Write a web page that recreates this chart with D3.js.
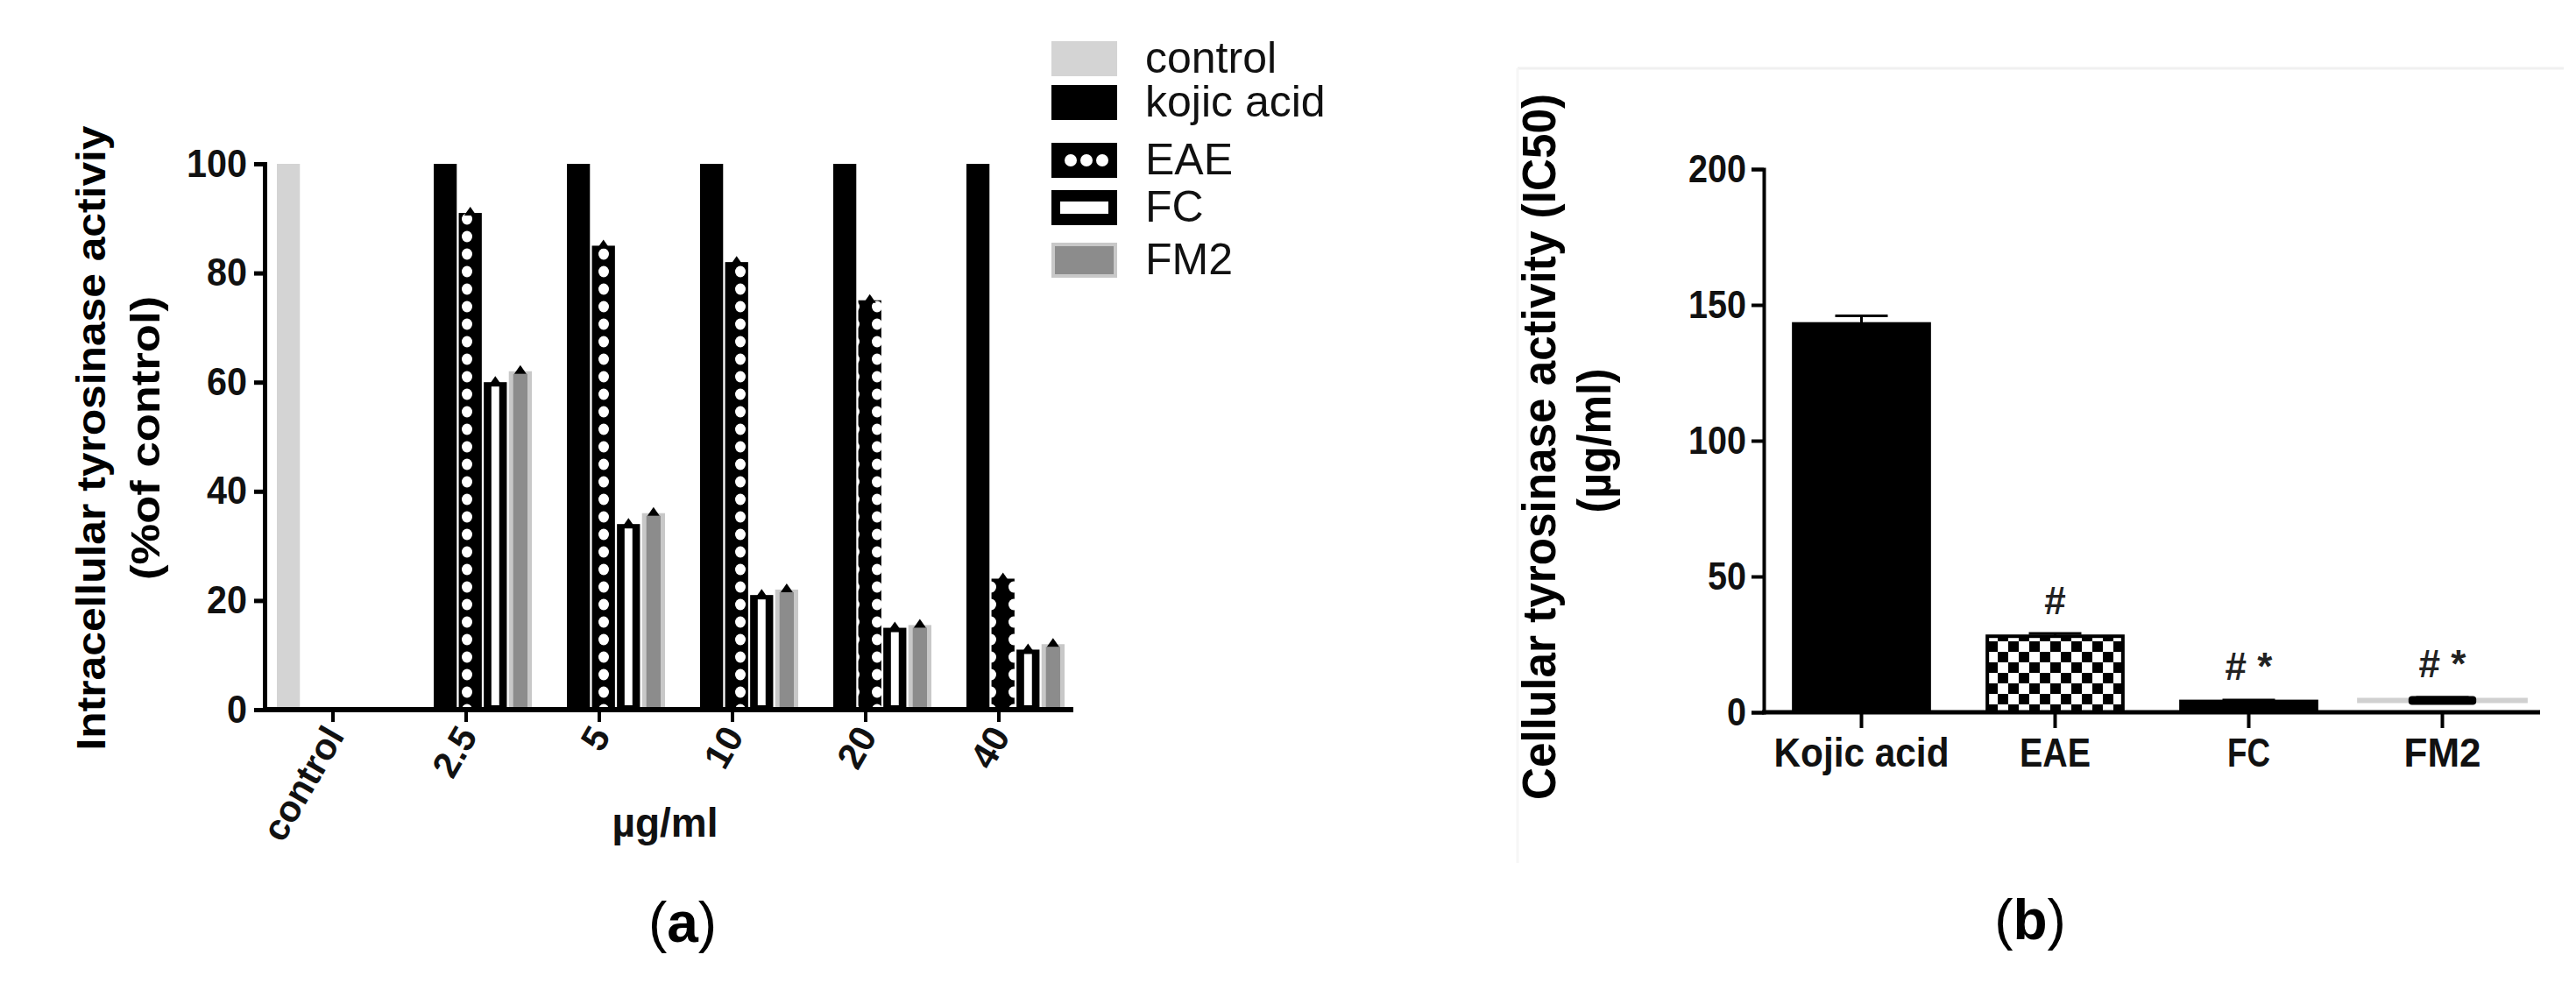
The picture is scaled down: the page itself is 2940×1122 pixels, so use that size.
<!DOCTYPE html>
<html lang="en">
<meta charset="utf-8">
<head>
<script src="https://d3js.org/d3.v7.min.js"></script>
<style>
  body { margin: 0; background: #fff; }
  text { font-family: "Liberation Sans", Arial, sans-serif; }
</style>
</head>
<body>
<svg id="chart" width="2940" height="1122"></svg>
<script>
// panel (a) data
const groups = ["control", "2.5", "5", "10", "20", "40"];
const series = ["control", "kojic acid", "EAE", "FC", "FM2"];
const controlVal = 100;
const kojic = [100, 100, 100, 100, 100];
const eae = [91, 85, 82, 75, 24];
const fc = [60, 34, 21, 15, 11];
const fm2 = [62, 36, 22, 15.5, 12];
const yTicksA = [0, 20, 40, 60, 80, 100];

// panel (b) data
const compounds = ["Kojic acid", "EAE", "FC", "FM2"];
const ic50 = [143, 28, 4, 5];
const ic50Err = [3, 1, 0.5, 0.5];
const marks = ["", "#", "# *", "# *"];
const yTicksB = [0, 50, 100, 150, 200];

const svg = d3.select("#chart");
const defs = svg.append("defs");

// patterns
const dots = defs.append("pattern").attr("id", "dots").attr("patternUnits", "userSpaceOnUse")
  .attr("width", 26).attr("height", 20);
dots.append("rect").attr("width", 26).attr("height", 20).attr("fill", "#000");
dots.append("ellipse").attr("cx", 13).attr("cy", 10).attr("rx", 6).attr("ry", 6.5).attr("fill", "#fff");

const check = defs.append("pattern").attr("id", "check").attr("patternUnits", "userSpaceOnUse")
  .attr("width", 24).attr("height", 24);
check.append("rect").attr("width", 24).attr("height", 24).attr("fill", "#fff");
check.append("rect").attr("width", 12).attr("height", 12).attr("fill", "#000");
check.append("rect").attr("x", 12).attr("y", 12).attr("width", 12).attr("height", 12).attr("fill", "#000");

const fills = {
  "control": "#d4d4d4",
  "kojic acid": "#000",
  "EAE": "url(#dots)",
  "FC": "#000",
  "FM2": "#9a9a9a"
};

// ---------- panel (a) ----------
const axA = 302, y0A = 810, y100A = 187, xEndA = 1225;
const yA = d3.scaleLinear().domain([0, 100]).range([y0A, y100A]);
const xG = d3.scaleBand().domain(groups).range([343, 343 + 6 * 152]);
const xS = d3.scaleBand().domain(["kojic acid", "EAE", "FC", "FM2"]).range([0, 112]).paddingInner(0.08);

const gA = svg.append("g");

function bar(g, name, xPos, w, v) {
  const top = yA(v), h = y0A - top;
  if (name === "FC") {
    g.append("rect").attr("x", xPos).attr("y", top).attr("width", w).attr("height", h).attr("fill", "#000");
    g.append("rect").attr("x", xPos + w * 0.33).attr("y", top + 5).attr("width", w * 0.34).attr("height", Math.max(0, h - 10)).attr("fill", "#fff");
  } else if (name === "FM2") {
    g.append("rect").attr("x", xPos).attr("y", top).attr("width", w).attr("height", h).attr("fill", "#c8c8c8");
    g.append("rect").attr("x", xPos + 5).attr("y", top + 3).attr("width", w - 10).attr("height", Math.max(0, h - 6)).attr("fill", "#8c8c8c");
  } else {
    g.append("rect").attr("x", xPos).attr("y", top).attr("width", w).attr("height", h).attr("fill", fills[name]);
  }
  if (name !== "control" && name !== "kojic acid") {
    g.append("path").attr("d", `M${xPos + w / 2 - 7},${top + 3}L${xPos + w / 2},${top - 7}L${xPos + w / 2 + 7},${top + 3}Z`).attr("fill", "#000");
  }
}

bar(gA, "control", xG("control") - 27, xS.bandwidth(), controlVal);
const vals = { "kojic acid": kojic, "EAE": eae, "FC": fc, "FM2": fm2 };
groups.slice(1).forEach((grp, i) => {
  ["kojic acid", "EAE", "FC", "FM2"].forEach(s => {
    bar(gA, s, xG(grp) + xS(s), xS.bandwidth(), vals[s][i]);
  });
});

const yAxA = gA.append("g").attr("transform", `translate(${axA},0)`)
  .call(d3.axisLeft(yA).tickValues(yTicksA).tickSize(12).tickPadding(8));
yAxA.select(".domain").attr("stroke-width", 5);
yAxA.selectAll(".tick line").attr("stroke-width", 5);
yAxA.selectAll("text").attr("font-size", 44).attr("font-weight", "bold").attr("fill", "#111")
  .attr("textLength", d => String(d).length * 23).attr("lengthAdjust", "spacingAndGlyphs");

gA.append("line").attr("x1", axA - 2).attr("x2", xEndA).attr("y1", y0A).attr("y2", y0A).attr("stroke", "#000").attr("stroke-width", 6);
groups.forEach(grp => {
  const cx = xG(grp) + 37;
  gA.append("line").attr("x1", cx).attr("x2", cx).attr("y1", y0A).attr("y2", y0A + 14).attr("stroke", "#000").attr("stroke-width", 4);
  gA.append("text").attr("transform", `translate(${cx + 14},${y0A + 30}) rotate(-60)`)
    .attr("text-anchor", "end").attr("font-size", 42).attr("font-weight", "bold").attr("fill", "#111")
    .text(grp);
});
gA.append("text").attr("x", 759).attr("y", 955).attr("text-anchor", "middle").attr("font-size", 46).attr("font-weight", "bold").attr("fill", "#111").text("µg/ml");
gA.append("text").attr("transform", "translate(120,500) rotate(-90)").attr("text-anchor", "middle")
  .attr("font-size", 46).attr("font-weight", "bold").attr("textLength", 713).attr("lengthAdjust", "spacingAndGlyphs")
  .text("Intracellular tyrosinase activiy");
gA.append("text").attr("transform", "translate(182,500) rotate(-90)").attr("text-anchor", "middle")
  .attr("font-size", 46).attr("font-weight", "bold").attr("textLength", 324).attr("lengthAdjust", "spacingAndGlyphs")
  .text("(%of control)");

// legend
const legendTops = [47, 97, 163, 217, 277];
const lg = gA.append("g").attr("transform", "translate(1200,0)");
series.forEach((s, i) => {
  const row = lg.append("g").attr("transform", `translate(0,${legendTops[i]})`);
  if (s === "FC") {
    row.append("rect").attr("width", 75).attr("height", 40).attr("fill", "#000");
    row.append("rect").attr("x", 10).attr("y", 13).attr("width", 55).attr("height", 14).attr("fill", "#fff");
  } else if (s === "FM2") {
    row.append("rect").attr("width", 75).attr("height", 40).attr("fill", "#c8c8c8");
    row.append("rect").attr("x", 4).attr("y", 4).attr("width", 67).attr("height", 32).attr("fill", "#8c8c8c");
  } else if (s === "EAE") {
    row.append("rect").attr("width", 75).attr("height", 40).attr("fill", "#000");
    [22, 40, 58].forEach(cx => row.append("circle").attr("cx", cx).attr("cy", 20).attr("r", 7).attr("fill", "#fff"));
  } else {
    row.append("rect").attr("width", 75).attr("height", 40).attr("fill", fills[s]);
  }
  row.append("text").attr("x", 107).attr("y", 36).attr("font-size", 50).attr("fill", "#111").text(s);
});

svg.append("text").attr("x", 779).attr("y", 1075).attr("text-anchor", "middle")
  .attr("font-family", "Liberation Serif, serif").attr("font-size", 64)
  .html('(<tspan font-weight="bold">a</tspan>)');

// ---------- panel (b) ----------
const gB = svg.append("g");
gB.append("line").attr("x1", 1732).attr("x2", 2926).attr("y1", 78).attr("y2", 78).attr("stroke", "#f0f0f0").attr("stroke-width", 3);
gB.append("line").attr("x1", 1732).attr("x2", 1732).attr("y1", 78).attr("y2", 985).attr("stroke", "#f6f6f6").attr("stroke-width", 3);

const axB = 2013, y0B = 813, xEndB = 2899;
const yB = d3.scaleLinear().domain([0, 200]).range([y0B, 193]);
const xB = d3.scaleBand().domain(compounds).range([2014, 2014 + 4 * 221]).paddingInner(0.3).paddingOuter(0.15);

const yAxB = gB.append("g").attr("transform", `translate(${axB},0)`)
  .call(d3.axisLeft(yB).tickValues(yTicksB).tickSize(14).tickPadding(6));
yAxB.select(".domain").attr("stroke-width", 4);
yAxB.selectAll(".tick line").attr("stroke-width", 4);
yAxB.selectAll("text").attr("font-size", 44).attr("fill", "#111").attr("font-weight", "bold")
  .attr("textLength", d => String(d).length * 22).attr("lengthAdjust", "spacingAndGlyphs");

const labelW = [200, 81, 49, 88];
compounds.forEach((c, i) => {
  const x = xB(c), w = xB.bandwidth(), top = yB(ic50[i]);
  if (c === "FM2") {
    gB.append("rect").attr("x", x - 20).attr("y", top - 1).attr("width", w + 40).attr("height", 6).attr("fill", "#d0d0d0");
    gB.append("rect").attr("x", x + w * 0.25).attr("y", top - 3).attr("width", w * 0.5).attr("height", 10).attr("rx", 4).attr("fill", "#000");
  } else {
    gB.append("rect").attr("x", x).attr("y", top).attr("width", w).attr("height", y0B - top)
      .attr("fill", c === "EAE" ? "url(#check)" : "#000").attr("stroke", "#000").attr("stroke-width", 4);
  }
  const eTop = yB(ic50[i] + ic50Err[i]);
  gB.append("line").attr("x1", x + w / 2).attr("x2", x + w / 2).attr("y1", top).attr("y2", eTop).attr("stroke", "#000").attr("stroke-width", 3);
  gB.append("line").attr("x1", x + w / 2 - 30).attr("x2", x + w / 2 + 30).attr("y1", eTop).attr("y2", eTop).attr("stroke", "#000").attr("stroke-width", 3);
  if (marks[i]) {
    gB.append("text").attr("x", x + w / 2).attr("y", top - 25).attr("text-anchor", "middle")
      .attr("font-size", 44).attr("font-weight", "bold").attr("fill", "#222").attr("xml:space", "preserve").text(marks[i]);
  }
  gB.append("line").attr("x1", x + w / 2).attr("x2", x + w / 2).attr("y1", y0B).attr("y2", y0B + 18).attr("stroke", "#000").attr("stroke-width", 4);
  gB.append("text").attr("x", x + w / 2).attr("y", 875).attr("text-anchor", "middle")
    .attr("font-size", 46).attr("font-weight", "bold").attr("fill", "#111")
    .attr("textLength", labelW[i]).attr("lengthAdjust", "spacingAndGlyphs").text(c);
});
gB.append("line").attr("x1", axB - 2).attr("x2", xEndB).attr("y1", y0B).attr("y2", y0B).attr("stroke", "#000").attr("stroke-width", 5);

gB.append("text").attr("transform", "translate(1775,510) rotate(-90)").attr("text-anchor", "middle")
  .attr("font-size", 54).attr("font-weight", "bold").attr("textLength", 806).attr("lengthAdjust", "spacingAndGlyphs")
  .text("Cellular tyrosinase activity (IC50)");
gB.append("text").attr("transform", "translate(1838,503) rotate(-90)").attr("text-anchor", "middle")
  .attr("font-size", 54).attr("font-weight", "bold").attr("textLength", 165).attr("lengthAdjust", "spacingAndGlyphs")
  .text("(µg/ml)");

svg.append("text").attr("x", 2317).attr("y", 1072).attr("text-anchor", "middle")
  .attr("font-family", "Liberation Serif, serif").attr("font-size", 64)
  .html('(<tspan font-weight="bold">b</tspan>)');
</script>
</body>
</html>
